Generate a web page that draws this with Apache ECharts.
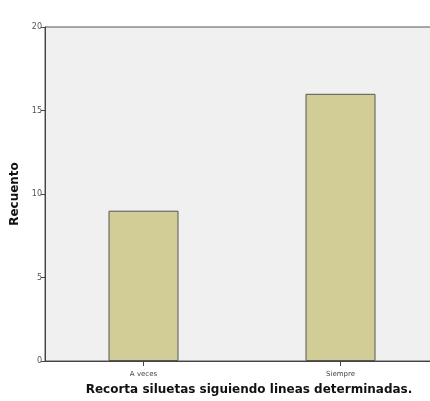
<!DOCTYPE html>
<html><head><meta charset="utf-8">
<script src="https://cdn.jsdelivr.net/npm/echarts@6/dist/echarts.min.js"></script>
<style>html,body{margin:0;padding:0;background:#fff;overflow:hidden;width:430px;height:401px}#c{width:439px;height:401px}</style>
</head><body><div id="c"></div>
<script>
var categories = ['A veces', 'Siempre'];
var counts = [9, 16];
var yTicks = [0, 5, 10, 15, 20];
var xTitle = 'Recorta siluetas siguiendo lineas determinadas.';
var yTitle = 'Recuento';

var chart = echarts.init(document.getElementById('c'));
chart.setOption({
  animation: false,
  grid: {left: 45, top: 27, right: 0, bottom: 40, backgroundColor: '#f0f0f0', show: true, borderColor: '#555', borderWidth: 1},
  xAxis: {
    type: 'category', data: categories,
    name: xTitle, nameLocation: 'middle', nameGap: 23,
    nameTextStyle: {fontFamily: 'DejaVu Sans', fontWeight: 'bold', fontSize: 12, color: '#111', padding: [0, 0, 0, 14]},
    axisLine: {lineStyle: {color: '#444', width: 1}},
    axisTick: {show: true, alignWithLabel: true, length: 5, lineStyle: {color: '#444'}},
    axisLabel: {fontFamily: 'DejaVu Sans', fontSize: 7, color: '#444', margin: 10},
    splitLine: {show: false}
  },
  yAxis: {
    type: 'value', min: yTicks[0], max: yTicks[yTicks.length - 1], interval: 5,
    name: yTitle, nameLocation: 'middle', nameGap: 20, nameRotate: 90,
    nameTextStyle: {fontFamily: 'DejaVu Sans', fontWeight: 'bold', fontSize: 12, color: '#111'},
    axisLine: {show: true, lineStyle: {color: '#444', width: 1}},
    axisTick: {show: true, length: 4, lineStyle: {color: '#444'}},
    axisLabel: {fontFamily: 'DejaVu Sans', fontSize: 8, color: '#555', margin: 3},
    splitLine: {show: false}
  },
  series: [{
    type: 'bar', data: counts, barWidth: 70,
    itemStyle: {color: '#d2cd97', borderColor: '#555', borderWidth: 1}
  }]
});
</script></body></html>
